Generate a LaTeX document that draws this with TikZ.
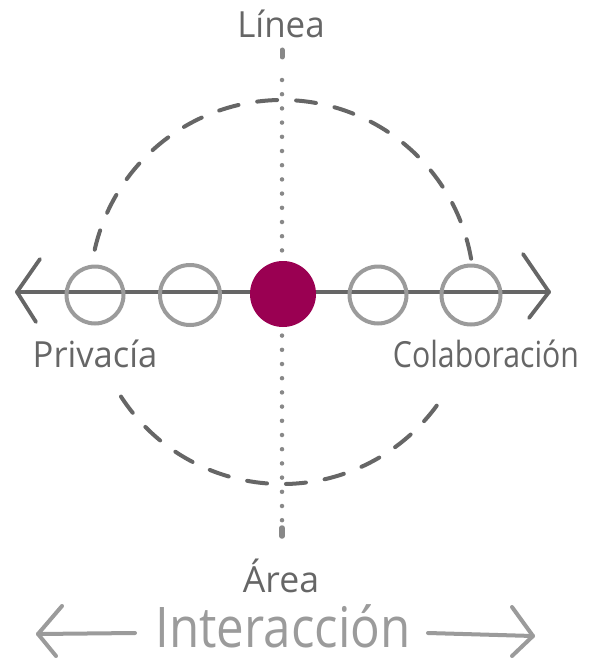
\documentclass[tikz,border=0pt]{standalone}
\usepackage{fontspec}
\setmainfont{Open Sans}
\definecolor{dk}{HTML}{666666}
\definecolor{lt}{HTML}{9B9B9B}
\definecolor{dotc}{HTML}{888888}
\definecolor{mag}{HTML}{9A0052}
\newcommand{\lbl}[2]{\scalebox{#1}[1]{#2}}
\begin{document}
\begin{tikzpicture}[x=1pt,y=-1pt,
  axis/.style={draw=dk,line width=3.8pt,line cap=round,line join=round},
  ring/.style={circle,draw=lt,line width=4pt,minimum size=57pt,inner sep=0pt},
  dashring/.style={draw=dk,line width=4pt,line cap=round,dash pattern=on 20pt off 19pt},
  dotline/.style={draw=dotc,line width=4.5pt,line cap=round,dash pattern=on 0pt off 14.2pt},
  lab/.style={text=dk,font=\fontsize{36}{36}\selectfont,inner sep=0pt},
  big/.style={draw=lt,line width=4pt,line cap=round,line join=round}]
\useasboundingbox (0,0) rectangle (589,661);
% dotted vertical axis
\coordinate (vt) at (282,53);
\coordinate (vt2) at (282,80);
\coordinate (vb) at (282,536);
\draw[dotline] (vt2) -- (vb);
\draw[draw=dotc,line width=5pt,line cap=round] (282,50) -- (282,57);
\draw[draw=dotc,line width=5.5pt,line cap=round] (282,528) -- (282,536);
% dashed circle
\coordinate (cc) at (282,292);
\draw[dashring] ([shift={(-10:192)}]cc) arc[start angle=-10,end angle=-171,radius=192];
\draw[dashring] ([shift={(147:192)}]cc) arc[start angle=147,end angle=31,radius=192];
% horizontal axis
\coordinate (hl) at (17,292);
\coordinate (hr) at (549,292);
\coordinate (hla) at (40,259);
\coordinate (hlb) at (36,322);
\coordinate (hra) at (523,254);
\coordinate (hrb) at (529,318);
\draw[axis] (hl) -- (hr);
\draw[axis] (hla) -- (hl) -- (hlb);
\draw[axis] (hra) -- (hr) -- (hrb);
% rings
\node[ring] (r1) at (95,295) {};
\node[ring,minimum size=60pt] (r2) at (190,295) {};
\node[ring] (r3) at (378,295) {};
\node[ring,minimum size=59pt] (r4) at (471,295) {};
\node[circle,fill=mag,minimum size=66pt,inner sep=0pt] (m) at (283,294) {};
% labels
\node[lab] (tl) at (281,24) {\lbl{0.97}{Línea}};
\node[lab] (bl) at (281,576) {\lbl{0.99}{Área}};
\node[lab] (pl) at (95,354) {\lbl{0.96}{Privacía}};
\node[lab] (cl) at (486,354) {\lbl{0.84}{Colaboración}};
\node[text=lt,inner sep=0pt,font=\fontsize{56}{56}\selectfont] (it) at (283,626) {\lbl{0.88}{Interacción}};
% bottom arrows
\coordinate (al) at (38,634);
\coordinate (al1) at (135,633);
\coordinate (ala) at (62,606);
\coordinate (alb) at (56,656);
\coordinate (ar) at (533,636);
\coordinate (ar1) at (428,633);
\coordinate (ara) at (512,607);
\coordinate (arb) at (512,656);
\draw[big] (al1) -- (al);
\draw[big] (ala) -- (al) -- (alb);
\draw[big] (ar1) -- (ar);
\draw[big] (ara) -- (ar) -- (arb);
\end{tikzpicture}
\end{document}
